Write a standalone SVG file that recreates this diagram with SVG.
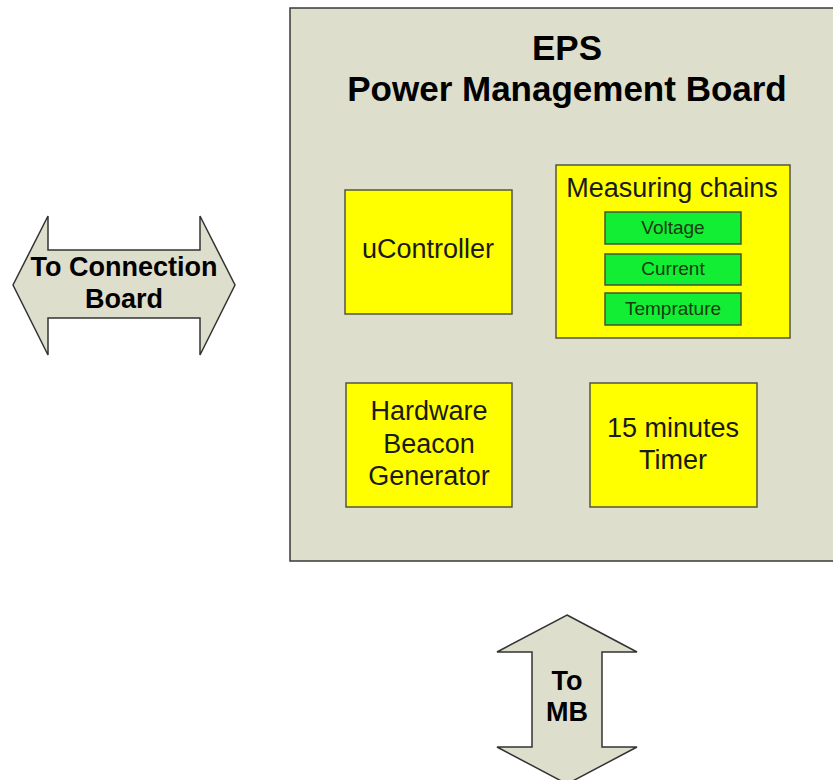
<svg xmlns="http://www.w3.org/2000/svg" width="833" height="780" viewBox="0 0 833 780">
<style>
.board{fill:#dddecb;stroke:#3a3a3a;stroke-width:1.5}
.blk{fill:#ffff00;stroke:#555544;stroke-width:1.5}
.grn{fill:#11ee33;stroke:#445533;stroke-width:1.5}
.arr{fill:#dddecb;stroke:#333333;stroke-width:1.5;stroke-linejoin:miter}
text{font-family:"Liberation Sans",Arial,sans-serif;text-anchor:middle;fill:#1a1a1a}
.t{font-size:35px;font-weight:bold;fill:#000}
.b{font-size:27px}
.s{font-size:19px;fill:#1a3a10}
.a{font-size:27px;font-weight:bold;fill:#000}
</style>
<rect width="833" height="780" fill="#ffffff"/>
<g id="board">
<rect class="board" x="290" y="8" width="560" height="553"/>
<text class="t" x="567" y="60">EPS</text>
<text class="t" x="567" y="101">Power Management Board</text>
</g>
<g id="ucontroller">
<rect class="blk" x="345" y="190" width="167" height="124"/>
<text class="b" x="428" y="258">uController</text>
</g>
<g id="measuring">
<rect class="blk" x="556" y="165" width="234" height="173"/>
<text class="b" x="672" y="197">Measuring chains</text>
</g>
<g id="voltage">
<rect class="grn" x="605" y="212" width="136" height="32"/>
<text class="s" x="673" y="234">Voltage</text>
</g>
<g id="current">
<rect class="grn" x="605" y="254" width="136" height="31"/>
<text class="s" x="673" y="275">Current</text>
</g>
<g id="temprature">
<rect class="grn" x="605" y="293" width="136" height="32"/>
<text class="s" x="673" y="315">Temprature</text>
</g>
<g id="beacon">
<rect class="blk" x="346" y="383" width="166" height="124"/>
<text class="b" x="429" y="420">Hardware</text>
<text class="b" x="429" y="453">Beacon</text>
<text class="b" x="429" y="485">Generator</text>
</g>
<g id="timer">
<rect class="blk" x="590" y="383" width="167" height="124"/>
<text class="b" x="673" y="437">15 minutes</text>
<text class="b" x="673" y="469">Timer</text>
</g>
<g id="connectors">
<g id="to-connection-board">
<polygon class="arr" points="13,285 48,216 48,250 200,250 200,216 235,285 200,355 200,318 48,318 48,355"/>
<text class="a" x="124" y="276">To Connection</text>
<text class="a" x="124" y="308">Board</text>
</g>
<g id="to-mb">
<polygon class="arr" points="567,615 637,652 602,652 602,747 637,747 567,784 497,747 532,747 532,652 497,652"/>
<text class="a" x="567" y="690">To</text>
<text class="a" x="567" y="721">MB</text>
</g>
</g>
</svg>
